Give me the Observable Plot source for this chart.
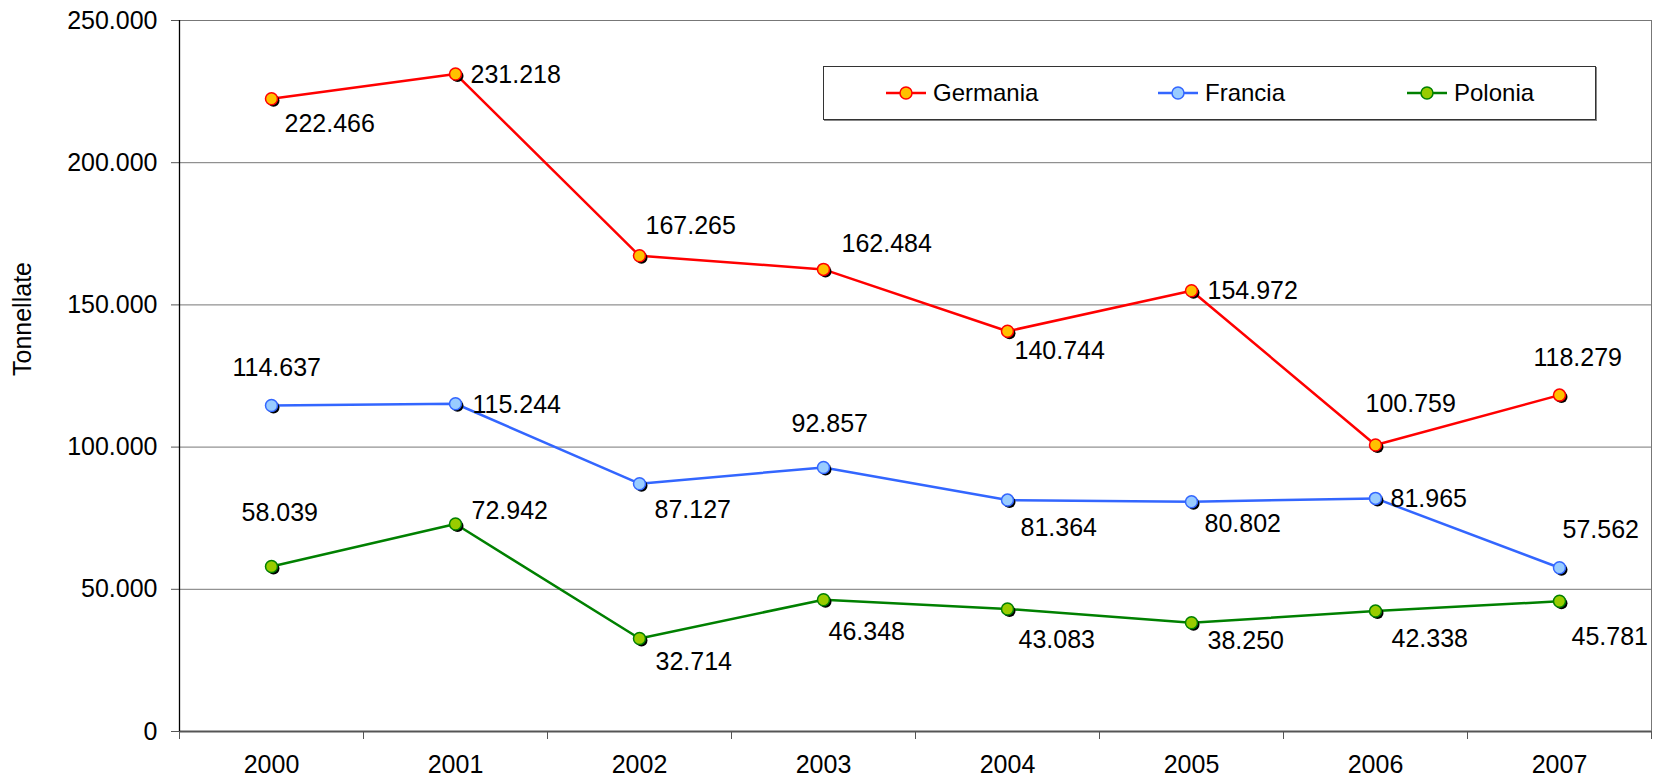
<!DOCTYPE html>
<html>
<head>
<meta charset="utf-8">
<script src="https://cdn.jsdelivr.net/npm/d3@7"></script>
<script src="https://cdn.jsdelivr.net/npm/@observablehq/plot@0.6"></script>
<style>
  html, body { margin: 0; padding: 0; background: #fff; }
  #wrap { position: relative; width: 1658px; height: 780px; overflow: hidden; font-family: "Liberation Sans", Arial, sans-serif; }
  #legend { position: absolute; left: 823px; top: 66px; width: 771px; height: 52px; border: 1px solid #333; background: #fff; box-shadow: 1px 1px 0 #888; }
  .item { position: absolute; top: 0; height: 52px; display: flex; align-items: center; font-size: 24px; color: #000; }
  .item svg { margin-right: 7px; }
</style>
</head>
<body>
<div id="wrap"></div>
<script>
// ---- data ----
const years = [2000, 2001, 2002, 2003, 2004, 2005, 2006, 2007];
const seriesNames = ["Germania", "Francia", "Polonia"];
const germania = [222466, 231218, 167265, 162484, 140744, 154972, 100759, 118279];
const francia  = [114637, 115244, 87127, 92857, 81364, 80802, 81965, 57562];
const polonia  = [58039, 72942, 32714, 46348, 43083, 38250, 42338, 45781];
const yTicks = [0, 50000, 100000, 150000, 200000, 250000];
const yTitle = "Tonnellate";

// ---- styling / layout (not data) ----
const styles = {
  Germania: {line: "#FF0000", fill: "#FFC000", stroke: "#FF0000"},
  Francia:  {line: "#3366FF", fill: "#99CCFF", stroke: "#3366FF"},
  Polonia:  {line: "#008000", fill: "#99CC00", stroke: "#008000"}
};
const labelOffsets = {
  Germania: [[13,25],[15,1],[6,-30],[18,-25],[7,20],[16,0],[-10,-41],[-26,-37]],
  Francia:  [[-39,-37],[17,1],[15,26],[-32,-43],[13,28],[13,22],[15,1],[3,-38]],
  Polonia:  [[-30,-53],[16,-13],[16,24],[5,32],[11,31],[16,18],[16,28],[12,36]]
};

const valuesBySeries = {Germania: germania, Francia: francia, Polonia: polonia};
const rows = seriesNames.flatMap(s => years.map((y, i) => ({series: s, year: y, value: valuesBySeries[s][i], i})));

const fmt = d3.formatLocale({decimal: ",", thousands: ".", grouping: [3], currency: ["", "€"]}).format(",d");
const boundaries = [years[0] - 0.5, ...years.map(y => y + 0.5)];

const marks = [
  Plot.frame({stroke: "#777"}),
  Plot.ruleY(yTicks.filter(t => t > 0), {stroke: "#777", strokeWidth: 1}),
  Plot.axisY({ticks: yTicks, tickSize: 8, tickPadding: 14, tickFormat: fmt, fontSize: 25, stroke: "#555", color: "#000", label: null}),
  Plot.axisX({ticks: boundaries, tickSize: 8, tickFormat: () => "", stroke: "#555", label: null}),
  Plot.axisX({ticks: years, tickSize: 0, tickPadding: 24, tickFormat: d => String(d), fontSize: 25, color: "#000", label: null}),
  Plot.ruleY([0], {x1: boundaries[0], x2: boundaries[boundaries.length - 1], stroke: "#555", strokeWidth: 2}),
  Plot.ruleX([boundaries[0]], {y1: 0, y2: yTicks[yTicks.length - 1], stroke: "#000", strokeWidth: 1.3}),
  Plot.text([yTitle], {frameAnchor: "left", rotate: -90, dx: -157, fontSize: 25, fill: "#000"})
];

for (const s of seriesNames) {
  const data = rows.filter(r => r.series === s);
  const st = styles[s];
  marks.push(Plot.line(data, {x: "year", y: "value", stroke: st.line, strokeWidth: 2.5}));
}
for (const s of seriesNames) {
  const data = rows.filter(r => r.series === s);
  const st = styles[s];
  marks.push(Plot.dot(data, {x: "year", y: "value", r: 6, fill: "#000", dx: 2, dy: 2}));
  marks.push(Plot.dot(data, {x: "year", y: "value", r: 6, fill: st.fill, stroke: st.stroke, strokeWidth: 1.5}));
  data.forEach((d, i) => {
    const [dx, dy] = labelOffsets[s][i];
    marks.push(Plot.text([d], {x: "year", y: "value", text: r => fmt(r.value), dx, dy, textAnchor: "start", lineAnchor: "middle", fontSize: 25, fill: "#000"}));
  });
}

const chart = Plot.plot({
  width: 1658,
  height: 780,
  marginLeft: 179,
  marginRight: 7,
  marginTop: 20,
  marginBottom: 49,
  style: {fontFamily: "'Liberation Sans', Arial, sans-serif", fontSize: "25px", background: "#fff", overflow: "visible", color: "#000"},
  x: {type: "linear", domain: [boundaries[0], boundaries[boundaries.length - 1]], label: null},
  y: {domain: [0, yTicks[yTicks.length - 1]], label: null},
  marks
});

const wrap = document.getElementById("wrap");
wrap.appendChild(chart);

// legend
const legend = document.createElement("div");
legend.id = "legend";
const itemLeft = [62, 334, 583];
seriesNames.forEach((s, k) => {
  const st = styles[s];
  const it = document.createElement("div");
  it.className = "item";
  it.style.left = itemLeft[k] + "px";
  it.innerHTML = `<svg width="40" height="16"><line x1="0" y1="8" x2="40" y2="8" stroke="${st.line}" stroke-width="2.5"/><circle cx="20" cy="8" r="6" fill="${st.fill}" stroke="${st.stroke}" stroke-width="1.5"/></svg><span>${s}</span>`;
  legend.appendChild(it);
});
wrap.appendChild(legend);
</script>
</body>
</html>
